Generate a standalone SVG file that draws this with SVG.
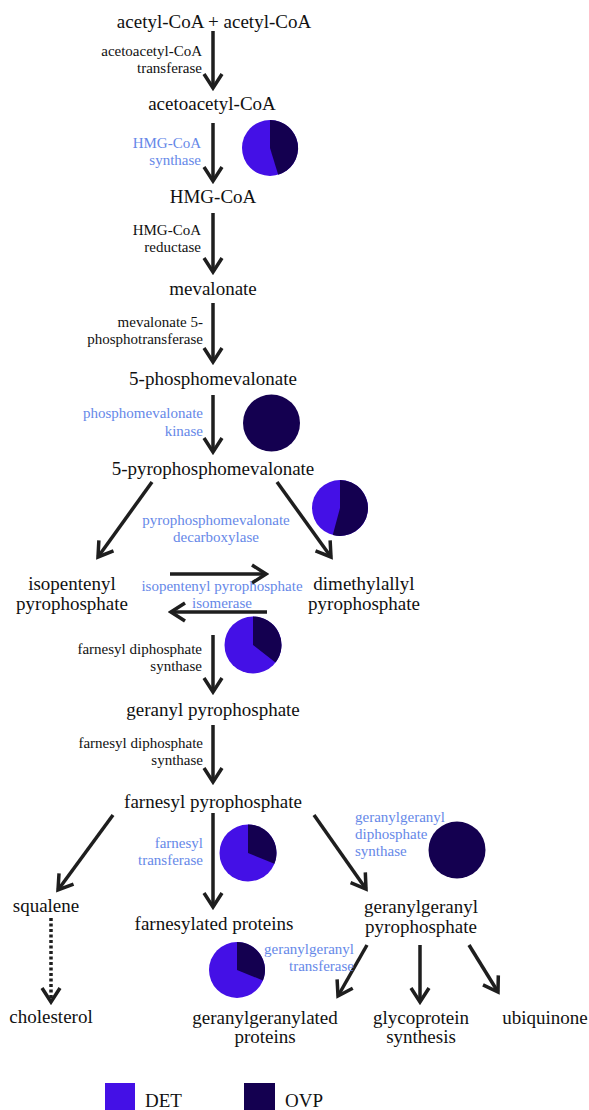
<svg xmlns="http://www.w3.org/2000/svg" width="589" height="1110" viewBox="0 0 589 1110">
<defs>
<style>
.m{font-family:"Liberation Serif","Times New Roman",serif;font-size:19px;fill:#111;text-anchor:middle}
.e{font-family:"Liberation Serif","Times New Roman",serif;font-size:15px;fill:#111}
.b{fill:#6688E8}
.r{text-anchor:end}
.c{text-anchor:middle}
.l{text-anchor:start}
.ln{stroke:#1e1e1e;stroke-width:3.5;fill:none;marker-end:url(#ah)}
.dot{stroke-dasharray:3 2.5}
.det{fill:#4410E6}
.ovp{fill:#140050}
.lg{font-family:"Liberation Serif","Times New Roman",serif;font-size:19px;fill:#111}
</style>
<marker id="ah" markerUnits="userSpaceOnUse" viewBox="-17 -12 20 24" refX="0" refY="0" markerWidth="20" markerHeight="24" orient="auto">
<path d="M-14,-9 L0,0 L-14,9" fill="none" stroke="#1e1e1e" stroke-width="3.5"/>
</marker>
</defs>
<rect width="589" height="1110" fill="#fff"/>

<g id="connectors">
<line class="ln" x1="213" y1="31" x2="213" y2="88"/>
<line class="ln" x1="213" y1="123" x2="213" y2="181"/>
<line class="ln" x1="213" y1="213" x2="213" y2="272"/>
<line class="ln" x1="213" y1="303" x2="213" y2="362"/>
<line class="ln" x1="213" y1="395" x2="213" y2="452"/>
<line class="ln" x1="152" y1="482" x2="98" y2="557"/>
<line class="ln" x1="277" y1="482" x2="331" y2="557"/>
<line class="ln" x1="170" y1="574" x2="266" y2="574"/>
<line class="ln" x1="267" y1="612" x2="171" y2="612"/>
<line class="ln" x1="213" y1="635" x2="213" y2="692"/>
<line class="ln" x1="213" y1="725" x2="213" y2="782"/>
<line class="ln" x1="113" y1="815" x2="58" y2="890"/>
<line class="ln" x1="213" y1="813" x2="213" y2="907"/>
<line class="ln" x1="314" y1="815" x2="366" y2="889"/>
<line class="ln dot" x1="51" y1="918" x2="51" y2="1002"/>
<line class="ln" x1="367" y1="945" x2="338" y2="996"/>
<line class="ln" x1="420" y1="945" x2="420" y2="1002"/>
<line class="ln" x1="469" y1="945" x2="498" y2="992"/>
</g>

<g id="enzymes">
<text class="e r" x="202" y="56">acetoacetyl-CoA</text>
<text class="e r" x="202" y="73">transferase</text>
<text class="e r b" x="201" y="148">HMG-CoA</text>
<text class="e r b" x="201" y="165">synthase</text>
<text class="e r" x="201" y="235">HMG-CoA</text>
<text class="e r" x="201" y="252">reductase</text>
<text class="e r" x="203" y="327">mevalonate 5-</text>
<text class="e r" x="203" y="344">phosphotransferase</text>
<text class="e r b" x="203" y="418">phosphomevalonate</text>
<text class="e r b" x="203" y="436">kinase</text>
<text class="e c b" x="216" y="525">pyrophosphomevalonate</text>
<text class="e c b" x="216" y="542">decarboxylase</text>
<text class="e c b" x="222" y="591">isopentenyl pyrophosphate</text>
<text class="e c b" x="222" y="608">isomerase</text>
<text class="e r" x="202" y="654">farnesyl diphosphate</text>
<text class="e r" x="202" y="671">synthase</text>
<text class="e r" x="203" y="748">farnesyl diphosphate</text>
<text class="e r" x="203" y="765">synthase</text>
<text class="e r b" x="203" y="848">farnesyl</text>
<text class="e r b" x="203" y="865">transferase</text>
<text class="e l b" x="355" y="822">geranylgeranyl</text>
<text class="e l b" x="355" y="839">diphosphate</text>
<text class="e l b" x="355" y="856">synthase</text>
<text class="e r b" x="354" y="954">geranylgeranyl</text>
<text class="e r b" x="354" y="971">transferase</text>
</g>

<g id="n-acetylcoa"><text class="m" x="214" y="28">acetyl-CoA + acetyl-CoA</text></g>
<g id="n-acetoacetylcoa"><text class="m" x="212" y="110">acetoacetyl-CoA</text></g>
<g id="n-hmgcoa"><text class="m" x="213" y="203">HMG-CoA</text></g>
<g id="n-mevalonate"><text class="m" x="213" y="295">mevalonate</text></g>
<g id="n-5pm"><text class="m" x="213" y="385">5-phosphomevalonate</text></g>
<g id="n-5ppm"><text class="m" x="213" y="475">5-pyrophosphomevalonate</text></g>
<g id="n-ipp"><text class="m" x="72" y="590">isopentenyl</text><text class="m" x="72" y="610">pyrophosphate</text></g>
<g id="n-dmapp"><text class="m" x="364" y="590">dimethylallyl</text><text class="m" x="364" y="610">pyrophosphate</text></g>
<g id="n-gpp"><text class="m" x="213" y="716">geranyl pyrophosphate</text></g>
<g id="n-fpp"><text class="m" x="213" y="808">farnesyl pyrophosphate</text></g>
<g id="n-squalene"><text class="m" x="46" y="912">squalene</text></g>
<g id="n-farnesylated"><text class="m" x="214" y="930">farnesylated proteins</text></g>
<g id="n-ggpp"><text class="m" x="421" y="913">geranylgeranyl</text><text class="m" x="421" y="933">pyrophosphate</text></g>
<g id="n-cholesterol"><text class="m" x="51" y="1023">cholesterol</text></g>
<g id="n-ggproteins"><text class="m" x="265" y="1024">geranylgeranylated</text><text class="m" x="265" y="1043">proteins</text></g>
<g id="n-glyco"><text class="m" x="421" y="1024">glycoprotein</text><text class="m" x="421" y="1043">synthesis</text></g>
<g id="n-ubiquinone"><text class="m" x="545" y="1024">ubiquinone</text></g>

<g id="pie-hmgcs">
<circle class="det" cx="270" cy="148" r="28"/>
<path class="ovp" d="M270,148 L270,120 A28,28 0 0 1 278.2,174.8 Z"/>
</g>
<g id="pie-pmk"><circle class="ovp" cx="271.5" cy="423" r="28.5"/></g>
<g id="pie-mvd">
<circle class="det" cx="340" cy="508" r="28"/>
<path class="ovp" d="M340,508 L340,480 A28,28 0 1 1 332.75,535.05 Z"/>
</g>
<g id="pie-fdps">
<circle class="det" cx="253" cy="645" r="28.5"/>
<path class="ovp" d="M253,645 L253,616.5 A28.5,28.5 0 0 1 275.46,662.55 Z"/>
</g>
<g id="pie-ft">
<circle class="det" cx="248" cy="853" r="28.5"/>
<path class="ovp" d="M248,853 L248,824.5 A28.5,28.5 0 0 1 274.42,863.68 Z"/>
</g>
<g id="pie-ggps"><circle class="ovp" cx="457" cy="850" r="28.5"/></g>
<g id="pie-ggt">
<circle class="det" cx="237" cy="970" r="28"/>
<path class="ovp" d="M237,970 L237,942 A28,28 0 0 1 262.96,980.49 Z"/>
</g>

<g id="legend">
<rect class="det" x="105" y="1083" width="30" height="30"/>
<text class="lg" x="145" y="1107">DET</text>
<rect class="ovp" x="244" y="1083" width="31" height="30"/>
<text class="lg" x="285" y="1107">OVP</text>
</g>
</svg>
